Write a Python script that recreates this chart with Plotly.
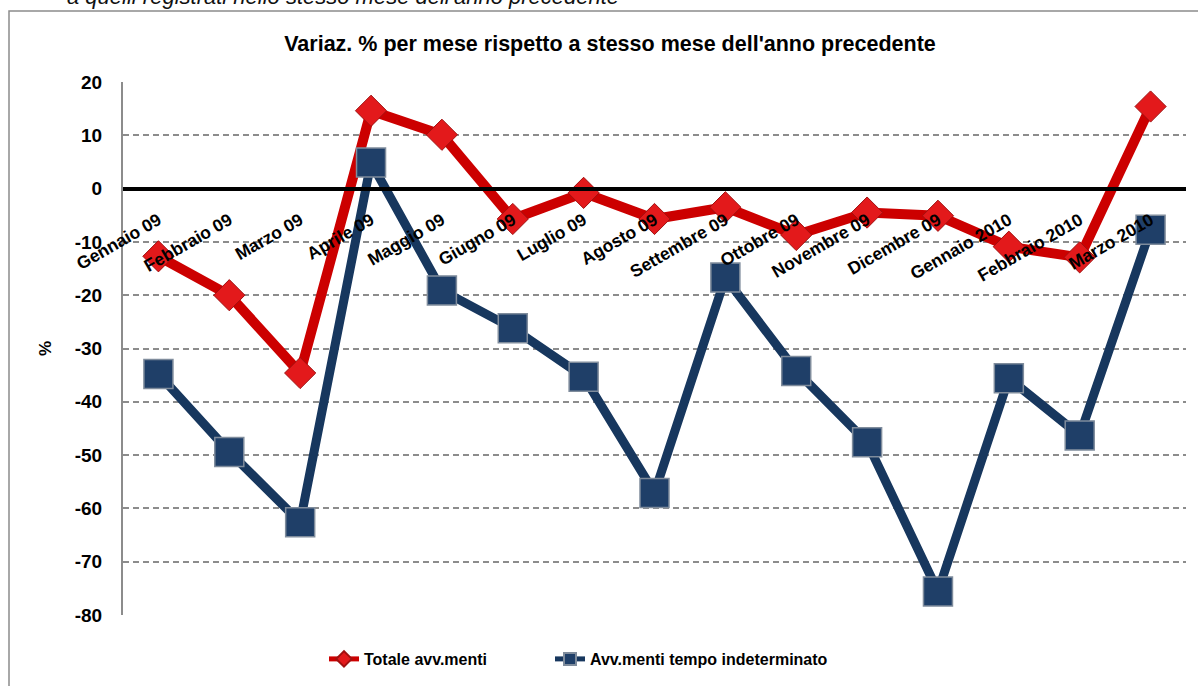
import plotly.graph_objects as go

categories = ["Gennaio 09", "Febbraio 09", "Marzo 09", "Aprile 09", "Maggio 09",
              "Giugno 09", "Luglio 09", "Agosto 09", "Settembre 09", "Ottobre 09",
              "Novembre 09", "Dicembre 09", "Gennaio 2010", "Febbraio 2010", "Marzo 2010"]
totale = [-12.7, -20.0, -34.6, 14.6, 10.1, -5.7, -0.8, -5.7, -3.5, -8.7,
          -4.5, -5.1, -10.9, -12.9, 15.4]
indeterminato = [-34.8, -49.4, -62.6, 4.9, -19.1, -26.2, -35.3, -57.1, -16.7, -34.2,
                 -47.6, -75.6, -35.6, -46.3, -7.7]
y_ticks = list(range(-80, 21, 10))

title_text = "Variaz. % per mese rispetto a stesso mese dell'anno precedente"
top_note = "a quelli registrati nello stesso mese dell'anno precedente"

NARROW = "Liberation Sans Narrow, Arial Narrow, Liberation Sans, Arial, sans-serif"
ARIAL = "Liberation Sans, Arial, sans-serif"

W, H = 1198, 686
L, R, T, B = 123, 12, 82, 71
pw, ph = W - L - R, H - T - B

def px_x(p):
    return (p - L) / pw

def px_y(p):
    return (H - B - p) / ph

fig = go.Figure()
fig.add_trace(go.Scatter(
    x=categories, y=totale, name="Totale avv.menti", mode="lines+markers",
    line=dict(color="#CC0000", width=10),
    marker=dict(symbol="diamond", size=24, color="#E3191B",
                line=dict(color="#A01010", width=1)),
    legend="legend",
))
fig.add_trace(go.Scatter(
    x=categories, y=indeterminato, name="Avv.menti tempo indeterminato", mode="lines+markers",
    line=dict(color="#17375E", width=9),
    marker=dict(symbol="square", size=29, color="#1F3F68",
                line=dict(color="#7F8C9C", width=1.5)),
    legend="legend2",
))

ymin, ymax = -80, 20
legend_font = dict(family=NARROW, size=16, color="black", weight="bold")
fig.update_layout(
    width=W, height=H,
    margin=dict(l=L, r=R, t=T, b=B, autoexpand=False),
    paper_bgcolor="white", plot_bgcolor="white",
    font=dict(family=NARROW, size=17, color="black"),
    title=dict(text="<b>" + title_text + "</b>", x=px_x(610), xanchor="center",
               xref="paper", y=1 - 43 / H, yanchor="middle",
               font=dict(family=NARROW, size=21.5, color="black")),
    xaxis=dict(
        type="category", range=[-0.5, len(categories) - 0.5], automargin=False,
        anchor="free", position=(0 - ymin) / (ymax - ymin),
        showline=True, linecolor="black", linewidth=3.5,
        showgrid=False, ticks="", tickangle=-30,
        tickfont=dict(family=ARIAL, size=17.5, color="black", weight="bold"),
        ticklabelstandoff=13,
    ),
    yaxis=dict(
        range=[ymin, ymax], tickvals=y_ticks, ticktext=[str(v) for v in y_ticks],
        automargin=False,
        showline=True, linecolor="#8C8C8C", linewidth=2,
        showgrid=True, gridcolor="#8C8C8C", gridwidth=1.5, griddash="6px,4px",
        zeroline=False, ticks="", ticklabelstandoff=15,
        tickfont=dict(family=NARROW, size=19, color="black", weight="bold"),
        title=dict(text="<b>%</b>", standoff=19,
                   font=dict(family=NARROW, size=17, color="black")),
    ),
    showlegend=True,
    legend=dict(orientation="h", x=px_x(324), xanchor="left", y=px_y(659), yanchor="middle",
                font=legend_font, itemsizing="constant", bgcolor="rgba(0,0,0,0)"),
    legend2=dict(orientation="h", x=px_x(550), xanchor="left", y=px_y(659), yanchor="middle",
                 font=legend_font, itemsizing="constant", bgcolor="rgba(0,0,0,0)"),
    shapes=[dict(type="rect", xref="paper", yref="paper",
                 x0=px_x(9), x1=px_x(1215), y0=px_y(700), y1=px_y(11),
                 line=dict(color="#8C8C8C", width=1.5), fillcolor="rgba(0,0,0,0)",
                 layer="below")],
    annotations=[dict(text="<i>" + top_note + "</i>", xref="paper", yref="paper",
                      x=px_x(65), xanchor="left", y=px_y(11), yanchor="bottom",
                      showarrow=False, font=dict(family=ARIAL, size=22, color="#111"))],
)

fig.write_html("out.html",
               config={"displayModeBar": False},
               post_script="document.body.style.margin='0';document.body.style.overflow='hidden';")
